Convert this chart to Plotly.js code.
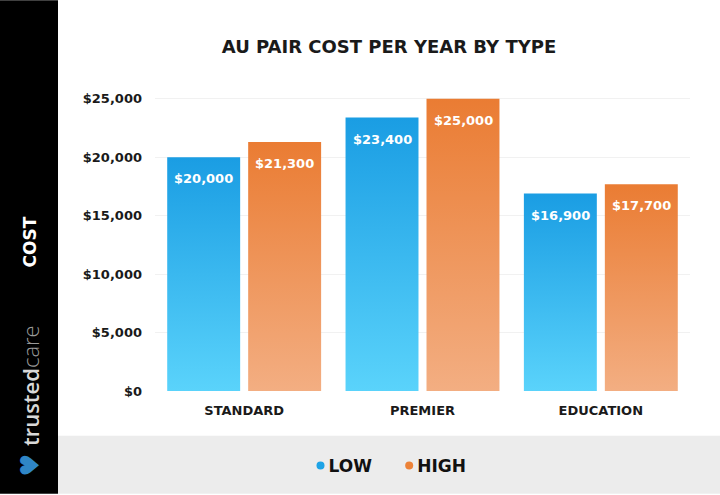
<!DOCTYPE html>
<html>
<head>
<meta charset="utf-8">
<script src="https://cdn.plot.ly/plotly-3.0.1.min.js"></script>
<style>html,body{margin:0;padding:0;background:#fff;}#chart{width:720px;height:495px;}</style>
</head>
<body>
<div id="chart"></div>
<script>
// ---- data ----
const categories = ["STANDARD", "PREMIER", "EDUCATION"];
const lowValues = [20000, 23400, 16900];
const highValues = [21300, 25000, 17700];
const seriesNames = ["LOW", "HIGH"];
const tickValues = [0, 5000, 10000, 15000, 20000, 25000];
const chartTitle = "AU PAIR COST PER YEAR BY TYPE";
const axisLabel = "COST";

// ---- layout helpers ----
const W = 720, H = 495, M = {l: 155, r: 30, t: 93, b: 103};
const px = x => (x - M.l) / (W - M.l - M.r);
const py = y => (H - M.b - y) / (H - M.t - M.b);
const FONT = "'DejaVu Sans', 'Open Sans', sans-serif";
const BLUE = "#1ea3e6", ORANGE = "#ec8238";

const fmt = v => "$" + v.toLocaleString("en-US");

const traces = [
  {type: "bar", name: seriesNames[0], x: categories, y: lowValues, marker: {color: BLUE}, showlegend: false, hoverinfo: "none"},
  {type: "bar", name: seriesNames[1], x: categories, y: highValues, marker: {color: ORANGE}, showlegend: false, hoverinfo: "none"},
  {type: "scatter", mode: "markers", name: seriesNames[0], x: [null], y: [null], marker: {color: BLUE, size: 8, symbol: "circle"}},
  {type: "scatter", mode: "markers", name: seriesNames[1], x: [null], y: [null], marker: {color: ORANGE, size: 8, symbol: "circle"}}
];

const annotations = [];
const groupOffset = 40.5;
[lowValues, highValues].forEach((vals, si) => {
  vals.forEach((v, i) => {
    annotations.push({
      xref: "x", yref: "y", x: categories[i], y: v,
      xshift: si === 0 ? -groupOffset : groupOffset, yshift: -12,
      yanchor: "top", xanchor: "center", showarrow: false,
      text: fmt(v),
      font: {family: FONT, size: 13, color: "#ffffff", weight: 700}
    });
  });
});
// sidebar texts
annotations.push({xref: "paper", yref: "paper", x: px(30), y: py(243), text: axisLabel, textangle: -90,
  showarrow: false, xanchor: "center", yanchor: "middle",
  font: {family: FONT, size: 17, color: "#ffffff", weight: 700}});
annotations.push({xref: "paper", yref: "paper", x: px(30), y: py(387),
  text: "<span style='font-weight:600'>trusted</span><span style='color:#9a9a9a;font-weight:300'>care</span>",
  textangle: -90, showarrow: false, xanchor: "center", yanchor: "middle",
  font: {family: "'Open Sans', sans-serif", size: 22, color: "#d8d8d8"}});
annotations.push({xref: "paper", yref: "paper", x: px(30), y: py(467), text: "♥", textangle: -90,
  showarrow: false, xanchor: "center", yanchor: "middle",
  font: {family: "DejaVu Sans", size: 26, color: "#2f86c6"}});

const layout = {
  width: W, height: H,
  margin: M,
  paper_bgcolor: "#ffffff", plot_bgcolor: "#ffffff",
  font: {family: FONT, color: "#1a1a1a"},
  title: {text: chartTitle, x: 389 / W, xref: "container", y: 1 - 47 / H, yref: "container",
    xanchor: "center", yanchor: "middle", font: {family: FONT, size: 18, color: "#1a1a1a", weight: 700}},
  barmode: "group", bargap: 0.092, bargroupgap: 0.099,
  xaxis: {type: "category", showgrid: false, zeroline: false, showline: false, ticks: "",
    tickfont: {family: FONT, size: 13, color: "#1a1a1a", weight: 700}, ticklabelstandoff: 10, fixedrange: true},
  yaxis: {range: [0, 25500], tickmode: "array", tickvals: tickValues, ticktext: tickValues.map(fmt),
    showgrid: true, gridcolor: "#f1f1f1", gridwidth: 1, zeroline: false, showline: false, ticks: "",
    tickfont: {family: FONT, size: 13, color: "#1a1a1a", weight: 700}, ticklabelstandoff: 12, fixedrange: true},
  legend: {orientation: "h", x: px(392), xanchor: "center", y: py(466), yanchor: "middle",
    bgcolor: "rgba(0,0,0,0)", font: {family: FONT, size: 17, color: "#111", weight: 700}, itemwidth: 30},
  shapes: [
    {type: "rect", xref: "paper", yref: "paper", x0: px(0), x1: px(58), y0: py(H), y1: py(0),
      fillcolor: "#000000", line: {width: 0}, layer: "below"},
    {type: "rect", xref: "paper", yref: "paper", x0: px(58), x1: px(W), y0: py(H), y1: py(437),
      fillcolor: "#ececec", line: {width: 0}, layer: "below"}
  ],
  annotations: annotations,
  showlegend: true
};

Plotly.newPlot("chart", traces, layout, {displayModeBar: false, staticPlot: true}).then(gd => {
  const svg = gd.querySelector(".main-svg");
  const ns = "http://www.w3.org/2000/svg";
  let defs = svg.querySelector("defs");
  if (!defs) { defs = document.createElementNS(ns, "defs"); svg.insertBefore(defs, svg.firstChild); }
  const grads = [["gradLow", "#1a9de3", "#5ad3fb"], ["gradHigh", "#ea7c33", "#f3ae82"]];
  grads.forEach(([id, top, bottom]) => {
    const g = document.createElementNS(ns, "linearGradient");
    g.setAttribute("id", id); g.setAttribute("x1", "0"); g.setAttribute("y1", "0");
    g.setAttribute("x2", "0"); g.setAttribute("y2", "1");
    [[0, top], [1, bottom]].forEach(([o, c]) => {
      const s = document.createElementNS(ns, "stop");
      s.setAttribute("offset", o); s.setAttribute("stop-color", c);
      g.appendChild(s);
    });
    defs.appendChild(g);
  });
  gd.querySelectorAll(".barlayer .trace").forEach((t, i) => {
    t.querySelectorAll("path").forEach(p => { p.style.fill = "url(#" + grads[i][0] + ")"; });
  });
  // tighten gap between legend symbol and text, like the reference
  gd.querySelectorAll(".legend .traces").forEach(tr => {
    const txt = tr.querySelector("text.legendtext");
    if (txt) txt.setAttribute("x", (parseFloat(txt.getAttribute("x")) || 40) - 12);
  });
});
</script>
</body>
</html>
